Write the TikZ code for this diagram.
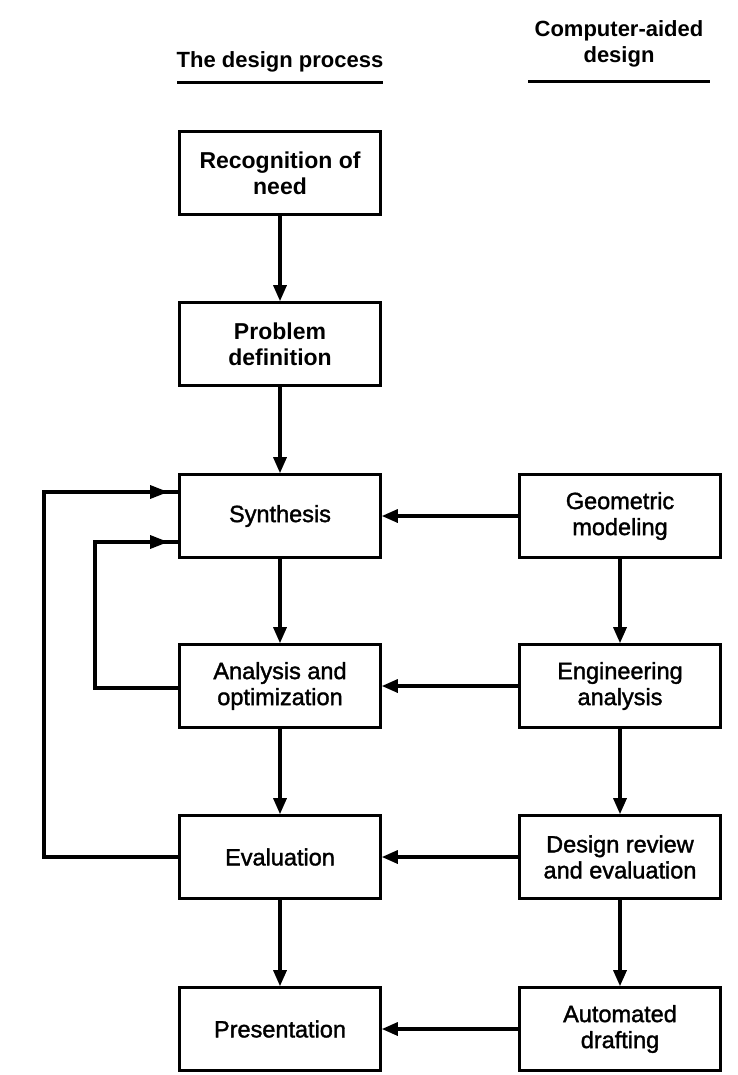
\documentclass[tikz,border=0pt]{standalone}
\usepackage{fontspec}
\setmainfont{Liberation Sans}
\newfontfamily\boxfont{Liberation Sans}[BoldFont={Liberation Sans}, BoldFeatures={FakeBold=1.5}]
\usetikzlibrary{arrows.meta,calc,decorations.markings}

\begin{document}
\begin{tikzpicture}[x=1pt,y=-1pt,
  stepbox/.style={draw, fill=white, line width=2.6pt, minimum width=201pt,
    minimum height=83pt, inner sep=0pt, align=center,
    font=\boxfont\bfseries\fontsize{23.5}{26}\selectfont},
  topbox/.style={stepbox, font=\bfseries\fontsize{23}{26}\selectfont},
  hdr/.style={align=center, inner sep=0pt, font=\bfseries\fontsize{22}{26}\selectfont},
  rule/.style={line width=3pt},
  conn/.style={line width=3.2pt, -{Triangle[length=16pt,width=13pt]}},
  loopline/.style={line width=3.2pt, postaction={decorate},
    decoration={markings,
      mark=at position -10pt with {\arrow{Triangle[length=18pt,width=13pt]}}}}
]
\useasboundingbox (0,0) rectangle (737,1075);
\fill[white] (0,0) rectangle (737,1075);

% column headings
\node[hdr, anchor=base] (hleft) at (280,68) {The design process};
\draw[rule] (177,83) -- (383,83);
\node[hdr, anchor=base] (hright) at (619,63) {Computer-aided\\design};
\draw[rule] (528,82) -- (710,82);

% the design process
\node[topbox]  (rec)   at (280,173)  {Recognition of\\need};
\node[topbox]  (prob)  at (280,344)  {Problem\\definition};
\node[stepbox] (synth) at (280,516)  {Synthesis};
\node[stepbox] (anal)  at (280,686)  {Analysis and\\optimization};
\node[stepbox] (eval)  at (280,857)  {Evaluation};
\node[stepbox] (pres)  at (280,1029) {Presentation};

% computer-aided design
\node[stepbox] (geom)  at (620,516)  {Geometric\\modeling};
\node[stepbox] (eng)   at (620,686)  {Engineering\\analysis};
\node[stepbox] (rev)   at (620,857)  {Design review\\and evaluation};
\node[stepbox] (draft) at (620,1029) {Automated\\drafting};

% main flow
\draw[conn] (rec) -- (prob);
\draw[conn] (prob) -- (synth);
\draw[conn] (synth) -- (anal);
\draw[conn] (anal) -- (eval);
\draw[conn] (eval) -- (pres);

\draw[conn] (geom) -- (eng);
\draw[conn] (eng) -- (rev);
\draw[conn] (rev) -- (draft);

% CAD support of each step
\draw[conn] (geom) -- (synth);
\draw[conn] (eng) -- (anal);
\draw[conn] (rev) -- (eval);
\draw[conn] (draft) -- (pres);

% feedback loops
\coordinate (outer) at (44,857);
\coordinate (inner) at (95,688);
\draw[loopline] (eval.west) -- (outer) |- ($(synth.west)+(0,-24)$);
\draw[loopline] (anal.west |- inner) -- (inner) |- ($(synth.west)+(0,26)$);
\end{tikzpicture}
\end{document}
